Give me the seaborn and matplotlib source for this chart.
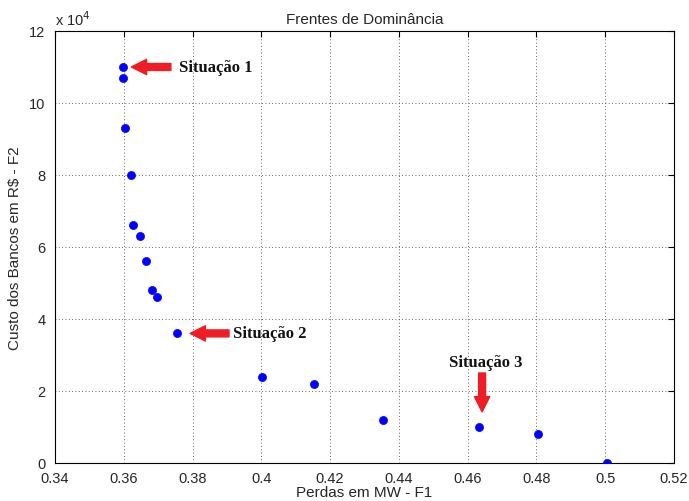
import matplotlib
matplotlib.use("Agg")
import matplotlib.pyplot as plt
import seaborn as sns
import pandas as pd

# Frentes de dominancia (perdas x custo dos bancos)
perdas_mw = [0.3598, 0.3598, 0.3604, 0.3621, 0.3627, 0.3647, 0.3665, 0.3682,
             0.3697, 0.3755, 0.4002, 0.4153, 0.4354, 0.4633, 0.4804, 0.5005]
custo_1e4 = [11.0, 10.7, 9.3, 8.0, 6.6, 6.3, 5.6, 4.8,
             4.6, 3.6, 2.4, 2.2, 1.2, 1.0, 0.8, 0.0]

x_ticks = [0.34, 0.36, 0.38, 0.40, 0.42, 0.44, 0.46, 0.48, 0.50, 0.52]
x_tick_labels = ["0.34", "0.36", "0.38", "0.4", "0.42", "0.44", "0.46", "0.48", "0.5", "0.52"]
y_ticks = [0, 2, 4, 6, 8, 10, 12]

df = pd.DataFrame({"perdas": perdas_mw, "custo": custo_1e4})

sns.set_style("white")
plt.rcParams["font.family"] = ["Liberation Sans", "DejaVu Sans"]

fig = plt.figure(figsize=(6.89, 5.02), dpi=100)
ax = fig.add_axes([0.0798, 0.0757, 0.8984, 0.8606])

sns.scatterplot(data=df, x="perdas", y="custo", ax=ax, color="#0000ff",
                s=34, edgecolor="#0000ff", linewidth=0.5, zorder=3)

ax.set_xlim(0.34, 0.52)
ax.set_ylim(0, 12)
ax.set_xticks(x_ticks)
ax.set_xticklabels(x_tick_labels)
ax.set_yticks(y_ticks)
ax.tick_params(direction="in", top=True, right=True, labelsize=10.5,
               length=4, width=0.8, color="black")
ax.tick_params(axis="x", pad=6)
ax.tick_params(axis="y", pad=7)
for sp in ax.spines.values():
    sp.set_color("black")
    sp.set_linewidth(0.8)
ax.grid(True, linestyle=(0, (1, 3)), color="#333333", linewidth=0.6)

ax.set_title("Frentes de Dominância", fontsize=11, pad=6)
ax.set_xlabel("Perdas em MW - F1", fontsize=11, labelpad=0)
ax.set_ylabel("Custo dos Bancos em R$ - F2", fontsize=11, labelpad=5)
ax.text(0.0, 1.008, "x 10$^{4}$", transform=ax.transAxes, fontsize=10.5,
        ha="left", va="bottom")

arrow = dict(facecolor="#ee1c25", edgecolor="#ee1c25", width=5,
             headwidth=11, headlength=11, shrink=0)
label_font = dict(family=["Liberation Serif", "DejaVu Serif"], fontsize=12,
                  fontweight="bold", color="#111111")

# Situacao 1
ax.annotate("", xy=(0.3622, 11.0), xytext=(0.3737, 11.0), arrowprops=arrow)
ax.text(0.3761, 11.0, "Situação 1", va="center", ha="left", **label_font)
# Situacao 2
ax.annotate("", xy=(0.3793, 3.6), xytext=(0.3906, 3.6), arrowprops=arrow)
ax.text(0.3918, 3.6, "Situação 2", va="center", ha="left", **label_font)
# Situacao 3
ax.annotate("", xy=(0.4642, 1.42), xytext=(0.4642, 2.5), arrowprops=arrow)
ax.text(0.4653, 2.8, "Situação 3", va="center", ha="center", **label_font)

plt.savefig("out.png", dpi=100)
plt.close()
